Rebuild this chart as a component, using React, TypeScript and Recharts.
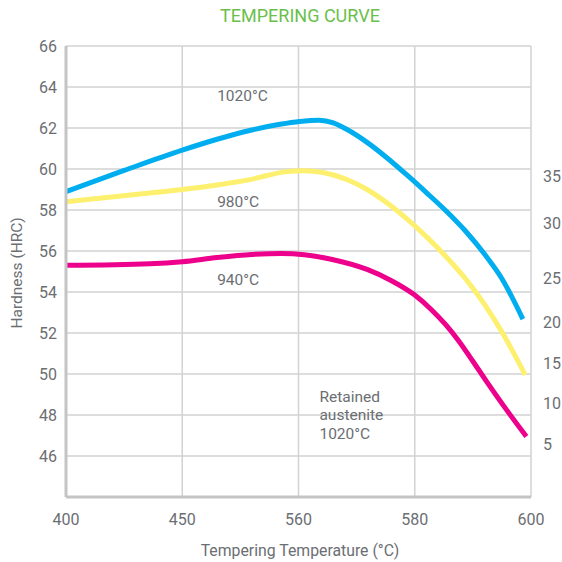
import { LineChart, Line, XAxis, YAxis, CartesianGrid, ReferenceDot } from "recharts";

// x is the position along the (unevenly labelled) temperature axis: 0 = 400 ... 4 = 600
const X_TICKS = [0, 1, 2, 3, 4];
const X_TICK_LABELS = ["400", "450", "560", "580", "600"];

const Y_TICKS = [46, 48, 50, 52, 54, 56, 58, 60, 62, 64, 66];

// right-hand scale (retained austenite) and the hardness level each label sits at
const RIGHT_TICK_LABELS = ["35", "30", "25", "20", "15", "10", "5"];
const RIGHT_TICK_HRC = [59.63, 57.33, 54.65, 52.5, 50.5, 48.55, 46.59];

const POS_1020 = [0, 0.5, 1.0, 1.3, 1.58, 1.84, 2.01, 2.18, 2.3, 2.41, 2.59, 2.76, 2.93, 3.1, 3.27, 3.44, 3.6, 3.75, 3.93];
const HRC_1020 = [58.9, 59.93, 60.92, 61.45, 61.88, 62.18, 62.32, 62.38, 62.25, 61.95, 61.3, 60.55, 59.72, 58.85, 57.95, 56.95, 55.85, 54.65, 52.68];

const POS_980 = [0, 0.72, 1.0, 1.3, 1.58, 1.73, 1.88, 2.05, 2.2, 2.41, 2.59, 2.76, 2.93, 3.1, 3.27, 3.44, 3.6, 3.75, 3.95];
const HRC_980 = [58.4, 58.83, 59.0, 59.22, 59.48, 59.68, 59.86, 59.92, 59.84, 59.5, 59.0, 58.35, 57.58, 56.7, 55.72, 54.62, 53.4, 52.05, 49.96];

const POS_940 = [0, 0.72, 1.0, 1.3, 1.6, 1.85, 2.05, 2.28, 2.59, 2.8, 3.0, 3.15, 3.27, 3.38, 3.5, 3.62, 3.79, 3.96];
const HRC_940 = [55.3, 55.38, 55.48, 55.68, 55.83, 55.88, 55.82, 55.6, 55.1, 54.55, 53.85, 53.1, 52.38, 51.6, 50.62, 49.62, 48.25, 46.95];

const NOTES = [
  { x: 1.3, y: 63.55, lines: ["1020°C"] },
  { x: 1.3, y: 58.39, lines: ["980°C"] },
  { x: 1.3, y: 54.57, lines: ["940°C"] },
  { x: 2.18, y: 48.9, lines: ["Retained", "austenite", "1020°C"] },
];

const toPoints = (xs: number[], ys: number[]) => xs.map((x, i) => ({ x, hrc: ys[i] }));

const FONT = "Roboto, 'Noto Sans', sans-serif";
const TEXT = "#6b6e72";

function NoteShape(props: any) {
  const { cx, cy, lines } = props;
  return (
    <text x={cx} y={cy} fill={TEXT} fontSize={15.5} fontFamily={FONT} dominantBaseline="central">
      {lines.map((l: string, i: number) => (
        <tspan key={i} x={cx} dy={i === 0 ? 0 : 18.8}>
          {l}
        </tspan>
      ))}
    </text>
  );
}

export default function App() {
  return (
    <div style={{ position: "absolute", left: 0, top: 0, width: 562, height: 562, fontFamily: FONT }}>
      <LineChart width={562} height={562} margin={{ top: 46, right: 0, bottom: 35, left: 0 }}>
        <CartesianGrid stroke="#d2d2d2" strokeWidth={1.5} />
        <XAxis
          type="number"
          dataKey="x"
          domain={[0, 4]}
          ticks={X_TICKS}
          tickFormatter={(v) => X_TICK_LABELS[v]}
          height={30}
          tickSize={0}
          tickMargin={17}
          axisLine={{ stroke: "#c4c4c4", strokeWidth: 3 }}
          tickLine={false}
          tick={{ fill: TEXT, fontSize: 16, fontFamily: FONT }}
        />
        <YAxis
          type="number"
          domain={[44, 66]}
          ticks={Y_TICKS}
          width={66}
          tickSize={0}
          tickMargin={9}
          axisLine={{ stroke: "#c4c4c4", strokeWidth: 3 }}
          tickLine={false}
          tick={{ fill: TEXT, fontSize: 16, fontFamily: FONT }}
        />
        <YAxis
          yAxisId="right"
          orientation="right"
          type="number"
          domain={[44, 66]}
          ticks={RIGHT_TICK_HRC}
          tickFormatter={(v) => RIGHT_TICK_LABELS[RIGHT_TICK_HRC.indexOf(v)]}
          width={31}
          tickSize={0}
          tickMargin={12}
          axisLine={false}
          tickLine={false}
          tick={{ fill: TEXT, fontSize: 16, fontFamily: FONT }}
        />
        {/* invisible series so the right-hand axis gets drawn */}
        <Line yAxisId="right" data={toPoints(POS_940, HRC_940)} dataKey="hrc" stroke="none" dot={false} activeDot={false} isAnimationActive={false} />
        <Line data={toPoints(POS_1020, HRC_1020)} dataKey="hrc" type="monotone" stroke="#00aeef" strokeWidth={5} dot={false} isAnimationActive={false} />
        <Line data={toPoints(POS_980, HRC_980)} dataKey="hrc" type="monotone" stroke="#fdf06e" strokeWidth={5} dot={false} isAnimationActive={false} />
        <Line data={toPoints(POS_940, HRC_940)} dataKey="hrc" type="monotone" stroke="#ec008c" strokeWidth={5} dot={false} isAnimationActive={false} />
        {NOTES.map((n, i) => (
          <ReferenceDot key={i} x={n.x} y={n.y} r={0} shape={(p: any) => <NoteShape {...p} lines={n.lines} />} />
        ))}
      </LineChart>
      <div style={{ position: "absolute", left: 300, top: 15, transform: "translate(-50%, -50%)", color: "#6abf4b", fontSize: 18, whiteSpace: "nowrap" }}>
        TEMPERING CURVE
      </div>
      <div style={{ position: "absolute", left: 300, top: 550, transform: "translate(-50%, -50%)", color: TEXT, fontSize: 15.8, whiteSpace: "nowrap" }}>
        Tempering Temperature (°C)
      </div>
      <div style={{ position: "absolute", left: 17, top: 273, transform: "translate(-50%, -50%) rotate(-90deg)", color: TEXT, fontSize: 15.5, whiteSpace: "nowrap" }}>
        Hardness (HRC)
      </div>
    </div>
  );
}
